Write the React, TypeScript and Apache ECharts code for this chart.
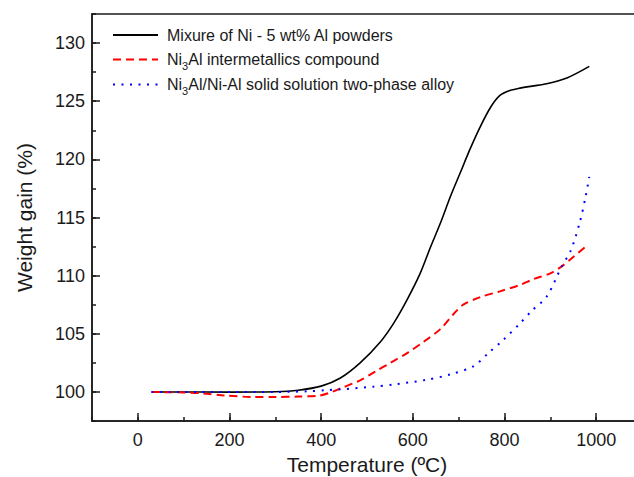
import React, { useEffect, useRef } from "react";
import * as echarts from "echarts";

// Tick label lists
const xTicks = [-100, 0, 100, 200, 300, 400, 500, 600, 700, 800, 900, 1000, 1100];
const yTicks = [97.5, 100, 102.5, 105, 107.5, 110, 112.5, 115, 117.5, 120, 122.5, 125, 127.5, 130, 132.5];

// Series names
const seriesNames = [
  "Mixure of Ni - 5 wt% Al powders",
  "Ni3Al intermetallics compound",
  "Ni3Al/Ni-Al solid solution two-phase alloy",
];

// Mixture of Ni - 5 wt% Al powders
const mixTemp = [30, 100, 200, 300, 350, 400, 442, 485, 529, 558, 587, 616, 638, 660, 682, 703, 725, 747, 770, 790, 810, 830, 860, 892, 936, 985];
const mixGain = [100, 100, 99.98, 100.02, 100.15, 100.5, 101.2, 102.5, 104.3, 105.9, 107.9, 110.2, 112.4, 114.5, 116.8, 118.8, 120.9, 122.8, 124.5, 125.5, 125.9, 126.1, 126.3, 126.5, 127.0, 128];

// Ni3Al intermetallics compound
const ni3alTemp = [30, 100, 140, 190, 250, 300, 350, 395, 420, 442, 485, 520, 551, 590, 623, 660, 689, 710, 747, 790, 834, 863, 900, 925, 950, 980];
const ni3alGain = [100, 99.95, 99.88, 99.7, 99.57, 99.57, 99.6, 99.68, 99.95, 100.3, 101.0, 101.8, 102.5, 103.4, 104.3, 105.4, 106.7, 107.5, 108.15, 108.65, 109.2, 109.7, 110.2, 110.8, 111.6, 112.6];

// Ni3Al/Ni-Al solid solution two-phase alloy
const twoPhaseTemp = [30, 100, 200, 300, 370, 410, 442, 514, 560, 631, 681, 732, 765, 798, 834, 860, 892, 925, 945, 965, 977, 985];
const twoPhaseGain = [100, 100, 100, 100, 100.05, 100.15, 100.22, 100.45, 100.65, 101.05, 101.5, 102.2, 103.35, 104.5, 105.9, 107.0, 108.2, 110.8, 112.2, 114.7, 116.8, 118.5];

const zip = (a: number[], b: number[]) => a.map((v, i) => [v, b[i]]);

const legendRich: Record<string, string> = {
  [seriesNames[0]]: "{n|Mixure of Ni - 5 wt% Al powders}",
  [seriesNames[1]]: "{n|Ni}{s|3}{n|Al intermetallics compound}",
  [seriesNames[2]]: "{n|Ni}{s|3}{n|Al/Ni-Al solid solution two-phase alloy}",
};

const FONT = "'Liberation Sans', Arial, sans-serif";
const INK = "#1a1a1a";

export default function App() {
  const ref = useRef<HTMLDivElement>(null);
  useEffect(() => {
    if (!ref.current) return;
    const chart = echarts.init(ref.current, null, { renderer: "svg" });
    const majorX = (_i: number, v: any) => {
      const n = Number(v);
      return n >= 0 && n <= 1000 && n % 200 === 0;
    };
    const majorY = (_i: number, v: any) => {
      const n = Number(v);
      return n >= 100 && n <= 130 && n % 5 === 0;
    };
    chart.setOption({
      animation: false,
      backgroundColor: "#ffffff",
      textStyle: { fontFamily: FONT },
      grid: {
        left: 92,
        top: 14,
        right: -8,
        bottom: 56,
        outerBoundsMode: "none",
        containLabel: false,
        show: true,
        borderColor: INK,
        borderWidth: 1.5,
        backgroundColor: "transparent",
      },
      legend: {
        orient: "vertical",
        left: 112,
        top: 24,
        padding: 0,
        itemWidth: 45,
        itemHeight: 14,
        itemGap: 2,
        itemStyle: { opacity: 0 },
        data: seriesNames,
        formatter: (name: string) => legendRich[name] || name,
        textStyle: {
          fontFamily: FONT,
          color: INK,
          fontSize: 16,
          lineHeight: 22,
          padding: [0, 0, 0, 4],
          rich: {
            n: { fontSize: 16, lineHeight: 22, fontFamily: FONT, color: INK, verticalAlign: "middle" },
            s: { fontSize: 11, lineHeight: 23, fontFamily: FONT, color: INK, verticalAlign: "bottom" },
          },
        },
      },
      xAxis: [
        {
          type: "value",
          min: -100,
          max: 1100,
          interval: 100,
          position: "bottom",
          axisLine: { show: true, onZero: false, lineStyle: { color: INK, width: 1.5 } },
          axisTick: { show: true, inside: true, length: 4, lineStyle: { color: INK, width: 1.5 } },
          axisLabel: { show: false },
          splitLine: { show: false },
        },
        {
          type: "category",
          data: xTicks.map(String),
          boundaryGap: false,
          position: "bottom",
          axisLine: { show: false, onZero: false },
          axisTick: { show: true, inside: true, length: 8, interval: majorX, lineStyle: { color: INK, width: 1.5 } },
          axisLabel: { show: true, interval: majorX, fontSize: 18, color: INK, fontFamily: FONT, margin: 10 },
          splitLine: { show: false },
          name: "Temperature (ºC)",
          nameLocation: "middle",
          nameGap: 32,
          nameTextStyle: { fontSize: 21, lineHeight: 21, color: INK, fontFamily: FONT },
        },
      ],
      yAxis: [
        {
          type: "value",
          min: 97.5,
          max: 132.5,
          interval: 2.5,
          position: "left",
          axisLine: { show: true, onZero: false, lineStyle: { color: INK, width: 1.5 } },
          axisTick: { show: true, inside: true, length: 4, lineStyle: { color: INK, width: 1.5 } },
          axisLabel: { show: false },
          splitLine: { show: false },
        },
        {
          type: "category",
          data: yTicks.map(String),
          boundaryGap: false,
          position: "left",
          axisLine: { show: false, onZero: false },
          axisTick: { show: true, inside: true, length: 8, interval: majorY, lineStyle: { color: INK, width: 1.5 } },
          axisLabel: { show: true, interval: majorY, fontSize: 18, color: INK, fontFamily: FONT, margin: 7 },
          splitLine: { show: false },
          name: "Weight gain (%)",
          nameLocation: "middle",
          nameGap: 57,
          nameTextStyle: { fontSize: 21, color: INK, fontFamily: FONT },
        },
      ],
      series: [
        {
          name: seriesNames[0],
          type: "line",
          data: zip(mixTemp, mixGain),
          smooth: 0.3,
          showSymbol: false,
          symbol: "none",
          lineStyle: { color: "#000000", width: 1.6, type: "solid" },
          itemStyle: { color: "#000000" },
        },
        {
          name: seriesNames[1],
          type: "line",
          data: zip(ni3alTemp, ni3alGain),
          smooth: 0.3,
          showSymbol: false,
          symbol: "none",
          lineStyle: { color: "#ff0000", width: 2, type: [8, 5] },
          itemStyle: { color: "#ff0000" },
        },
        {
          name: seriesNames[2],
          type: "line",
          data: zip(twoPhaseTemp, twoPhaseGain),
          smooth: 0.3,
          showSymbol: false,
          symbol: "none",
          lineStyle: { color: "#0000ff", width: 2, type: [2, 6.5] },
          itemStyle: { color: "#0000ff" },
        },
      ],
    });
    return () => chart.dispose();
  }, []);
  return (
    <div
      ref={ref}
      style={{ position: "fixed", left: 0, top: 0, width: 634, height: 477, background: "#fff" }}
    />
  );
}
